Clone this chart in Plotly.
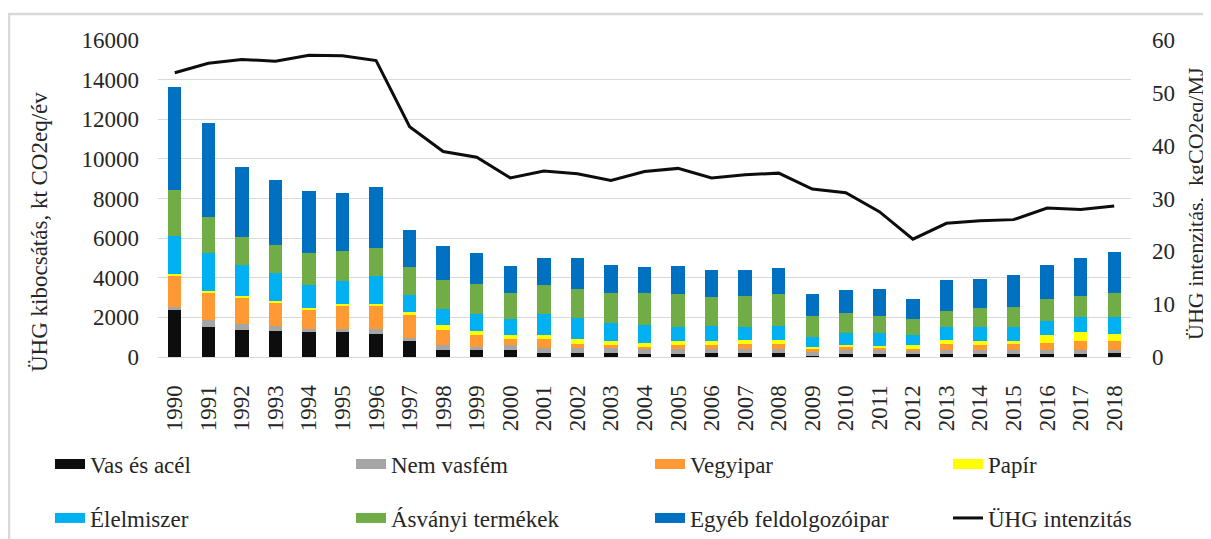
import plotly.graph_objects as go

years = [str(y) for y in range(1990, 2019)]

vas_es_acel = [2353, 1496, 1378, 1294, 1244, 1244, 1176, 790, 336, 335, 335, 201, 201, 201, 134,
               134, 201, 201, 201, 50, 134, 134, 134, 134, 134, 134, 134, 134, 235]
nem_vasfem = [168, 386, 303, 286, 185, 185, 253, 185, 269, 185, 252, 269, 269, 269, 268,
              268, 201, 201, 201, 252, 201, 201, 201, 201, 201, 201, 201, 201, 100]
vegyipar = [1580, 1379, 1327, 1160, 924, 1126, 1126, 1126, 773, 587, 335, 452, 201, 117, 101,
            185, 185, 252, 252, 100, 168, 101, 67, 319, 252, 319, 386, 453, 453]
papir = [67, 50, 68, 67, 134, 117, 117, 185, 219, 184, 202, 202, 251, 201, 218,
         201, 201, 201, 201, 101, 101, 101, 202, 201, 201, 134, 386, 453, 386]
elelmiszer = [1916, 1933, 1546, 1428, 1160, 1177, 1429, 840, 823, 856, 771, 1023, 1023, 923, 906,
              705, 788, 638, 721, 486, 587, 654, 520, 638, 705, 705, 721, 771, 838]
asvanyi = [2353, 1815, 1412, 1412, 1614, 1479, 1412, 1412, 1479, 1542, 1342, 1475, 1493, 1526, 1610,
           1677, 1476, 1609, 1594, 1090, 1023, 888, 771, 838, 972, 1039, 1090, 1090, 1225]
egyeb = [5177, 4739, 3563, 3294, 3109, 2975, 3058, 1882, 1681, 1543, 1358, 1359, 1543, 1425, 1291,
         1425, 1359, 1309, 1308, 1091, 1157, 1359, 1023, 1560, 1493, 1610, 1744, 1879, 2062]
intenzitas = [53.8, 55.6, 56.3, 56.0, 57.1, 57.0, 56.1, 43.6, 38.9, 37.8, 33.9, 35.2, 34.7, 33.4, 35.1,
              35.7, 33.9, 34.5, 34.8, 31.8, 31.1, 27.5, 22.3, 25.3, 25.8, 26.0, 28.2, 27.9, 28.6]

series = [
    ("Vas és acél", vas_es_acel, "#0d0d0d"),
    ("Nem vasfém", nem_vasfem, "#a5a5a5"),
    ("Vegyipar", vegyipar, "#ff9933"),
    ("Papír", papir, "#ffff00"),
    ("Élelmiszer", elelmiszer, "#00b0f0"),
    ("Ásványi termékek", asvanyi, "#70ad47"),
    ("Egyéb feldolgozóipar", egyeb, "#0070c0"),
]
line_name = "ÜHG intenzitás"

FAM = "Liberation Serif"
TXT = "#262626"
FS = 23


def F(size=FS):
    return dict(family=FAM, size=size, color=TXT)


# the page places the figure 8px from the top-left corner, so the figure is
# 8px smaller and every reference pixel position is shifted by -8
OFF = 8
W, H = 1211 - OFF, 539 - OFF
L, R, T, B = 158 - OFF, 1211 - 1131, 40 - OFF, 539 - 357
PW, PH = W - L - R, H - T - B


def px_to_paper_x(px):
    return (px - OFF - L) / PW


def px_to_paper_y(py):
    return (H - B - (py - OFF)) / PH


fig = go.Figure()
for name, vals, col in series:
    fig.add_trace(go.Bar(x=years, y=vals, name=name, marker=dict(color=col, line=dict(width=0)),
                         legendgroup=name, showlegend=False))
fig.add_trace(go.Scatter(x=years, y=intenzitas, name=line_name, mode="lines",
                         line=dict(color="#0d0d0d", width=3), yaxis="y2",
                         legendgroup=line_name, showlegend=False))

# legend entries (one legend per entry for exact column placement)
text_x = [90, 391, 690, 988]
row_y = [464, 518]
entries = [(n, c, 10) for n, _, c in series] + [(line_name, "#0d0d0d", 3)]
legends = {}
for i, (name, col, lw) in enumerate(entries):
    key = "legend" if i == 0 else f"legend{i+1}"
    fig.add_trace(go.Scatter(x=[years[0]], y=[None], mode="lines", name=name,
                             line=dict(color=col, width=lw), legend=key,
                             legendgroup=name, showlegend=True, hoverinfo="skip"))
    r, c = divmod(i, 4)
    legends[key] = dict(x=px_to_paper_x(text_x[c] - 40), y=px_to_paper_y(row_y[r]),
                        xref="paper", yref="paper",
                        xanchor="left", yanchor="middle", bgcolor="rgba(0,0,0,0)",
                        font=F())

fig.update_layout(
    width=W, height=H,
    margin=dict(l=L, r=R, t=T, b=B, autoexpand=False),
    barmode="stack", bargap=0.6,
    plot_bgcolor="white", paper_bgcolor="white",
    font=F(),
    xaxis=dict(type="category", tickangle=-90, showgrid=False, showline=True,
               linecolor="#d9d9d9", linewidth=1, ticks="", ticklabelstandoff=18,
               tickfont=F(), range=[-0.5, 28.5]),
    yaxis=dict(range=[0, 16000], dtick=2000, tickformat="d", showgrid=True, gridcolor="#d9d9d9",
               gridwidth=1, zeroline=False, ticks="", ticklabelstandoff=18, tickfont=F()),
    yaxis2=dict(range=[0, 60], dtick=10, overlaying="y", side="right", showgrid=False,
                zeroline=False, ticks="", ticklabelstandoff=20, tickfont=F()),
    showlegend=True,
    **legends,
    annotations=[
        dict(text="ÜHG kibocsátás, kt CO2eq/év", x=px_to_paper_x(39), y=px_to_paper_y(232),
             xref="paper", yref="paper", textangle=-90, showarrow=False,
             xanchor="center", yanchor="middle", font=F()),
        dict(text="ÜHG intenzitás,\u00a0 kgCO2eq/MJ", x=px_to_paper_x(1195), y=px_to_paper_y(204),
             xref="paper", yref="paper", textangle=-90, showarrow=False,
             xanchor="center", yanchor="middle", font=F(22)),
    ],
    shapes=[
        dict(type="rect", xref="paper", yref="paper",
             x0=px_to_paper_x(9), x1=px_to_paper_x(1225),
             y0=px_to_paper_y(14), y1=px_to_paper_y(553),
             line=dict(color="#d9d9d9", width=2.5), layer="below"),
    ],
)

fig.write_html("out.html")
